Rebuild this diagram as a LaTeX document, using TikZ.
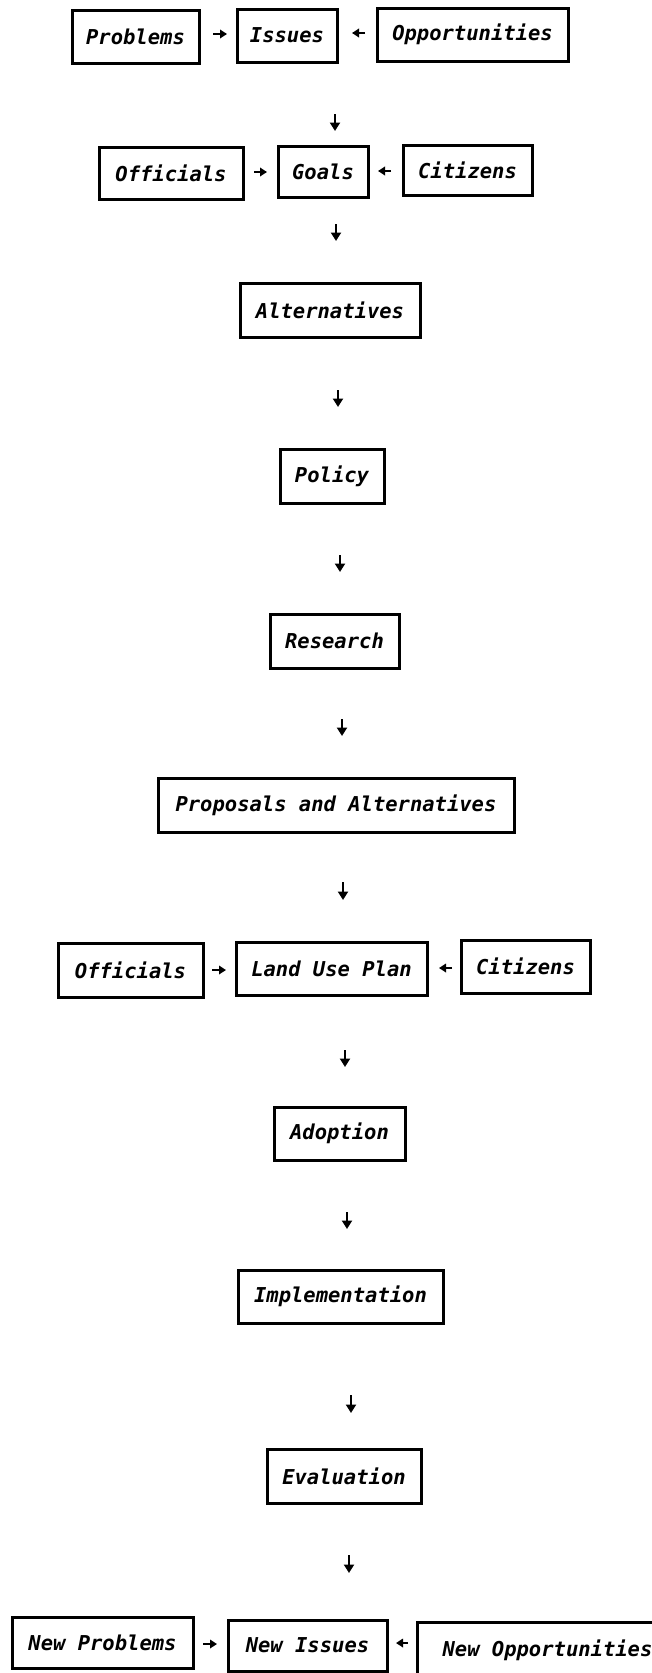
\documentclass[tikz,border=0pt]{standalone}
\usepackage{fontspec}
\newfontfamily\handfont{DejaVu Sans Mono}
\usetikzlibrary{arrows.meta}
\tikzset{
  box/.style={draw, line width=3pt, inner sep=0pt,
    font=\handfont\bfseries\itshape\fontsize{20.5pt}{24pt}\selectfont},
  darr/.style={line width=2.6pt, -{Triangle[length=8.5pt,width=10pt]}},
  harr/.style={line width=2.4pt, -{Triangle[length=7pt,width=8.5pt]}},
}
\begin{document}
\begin{tikzpicture}[x=1pt,y=-1pt]
\useasboundingbox (0,0) rectangle (652,1673);
\fill[white] (0,0) rectangle (652,1673);
\clip (0,0) rectangle (652,1673);
% row 1
\node[box, minimum width=127pt, minimum height=53pt] (prob) at (135.5,36.5) {Problems};
\node[box, minimum width=100pt, minimum height=53pt] (iss) at (287,35.5) {Issues};
\node[box, minimum width=191pt, minimum height=53pt] (opp) at (472.5,34.5) {Opportunities};
\coordinate (h1s) at (213,34); \coordinate (h1e) at (227,34);
\coordinate (h2s) at (365,33); \coordinate (h2e) at (352,33);
\draw[harr] (h1s) -- (h1e);
\draw[harr] (h2s) -- (h2e);
\coordinate (d1s) at (335,114); \coordinate (d1e) at (335,131);
\draw[darr] (d1s) -- (d1e);
% row 2
\node[box, minimum width=144pt, minimum height=52pt] (off1) at (171,173) {Officials};
\node[box, minimum width=90pt, minimum height=51pt] (goals) at (323,171.5) {Goals};
\node[box, minimum width=129pt, minimum height=50pt] (cit1) at (467.5,170) {Citizens};
\coordinate (h3s) at (254,172); \coordinate (h3e) at (267,172);
\coordinate (h4s) at (391,171); \coordinate (h4e) at (378,171);
\draw[harr] (h3s) -- (h3e);
\draw[harr] (h4s) -- (h4e);
\coordinate (d2s) at (336,224); \coordinate (d2e) at (336,241);
\draw[darr] (d2s) -- (d2e);
% column
\node[box, minimum width=180pt, minimum height=54pt] (alt) at (330,310) {Alternatives};
\coordinate (d3s) at (338,390); \coordinate (d3e) at (338,407);
\draw[darr] (d3s) -- (d3e);
\node[box, minimum width=104pt, minimum height=54pt] (pol) at (332,476) {Policy};
\coordinate (d4s) at (340,555); \coordinate (d4e) at (340,572);
\draw[darr] (d4s) -- (d4e);
\node[box, minimum width=129pt, minimum height=54pt] (res) at (334.5,641) {Research};
\coordinate (d5s) at (342,719); \coordinate (d5e) at (342,736);
\draw[darr] (d5s) -- (d5e);
\node[box, minimum width=356pt, minimum height=54pt] (prop) at (336,805) {Proposals and Alternatives};
\coordinate (d6s) at (343,882); \coordinate (d6e) at (343,900);
\draw[darr] (d6s) -- (d6e);
% land use row
\node[box, minimum width=145pt, minimum height=54pt] (off2) at (130.5,970) {Officials};
\node[box, minimum width=191pt, minimum height=53pt] (lup) at (331.5,968.5) {Land Use Plan};
\node[box, minimum width=129pt, minimum height=53pt] (cit2) at (525.5,966.5) {Citizens};
\coordinate (h5s) at (212,970); \coordinate (h5e) at (226,970);
\coordinate (h6s) at (452,968); \coordinate (h6e) at (439,968);
\draw[harr] (h5s) -- (h5e);
\draw[harr] (h6s) -- (h6e);
\coordinate (d7s) at (345,1050); \coordinate (d7e) at (345,1067);
\draw[darr] (d7s) -- (d7e);
\node[box, minimum width=131pt, minimum height=53pt] (adop) at (339.5,1133.5) {Adoption};
\coordinate (d8s) at (347,1212); \coordinate (d8e) at (347,1229);
\draw[darr] (d8s) -- (d8e);
\node[box, minimum width=205pt, minimum height=53pt] (impl) at (340.5,1296.5) {Implementation};
\coordinate (d9s) at (351,1395); \coordinate (d9e) at (351,1413);
\draw[darr] (d9s) -- (d9e);
\node[box, minimum width=154pt, minimum height=54pt] (eval) at (344,1476) {Evaluation};
\coordinate (d10s) at (349,1555); \coordinate (d10e) at (349,1573);
\draw[darr] (d10s) -- (d10e);
% bottom row
\node[box, minimum width=181pt, minimum height=51pt] (nprob) at (102.5,1642.5) {New Problems};
\node[box, minimum width=159pt, minimum height=51pt] (niss) at (307.5,1645.5) {New Issues};
\node[box, minimum width=244pt, minimum height=55pt, anchor=west] (nopp) at (416,1650) {\hspace*{16pt}New Opportunities\hfill};
\coordinate (h7s) at (203,1644); \coordinate (h7e) at (217,1644);
\coordinate (h8s) at (408,1643); \coordinate (h8e) at (396,1643);
\draw[harr] (h7s) -- (h7e);
\draw[harr] (h8s) -- (h8e);
\end{tikzpicture}
\end{document}
